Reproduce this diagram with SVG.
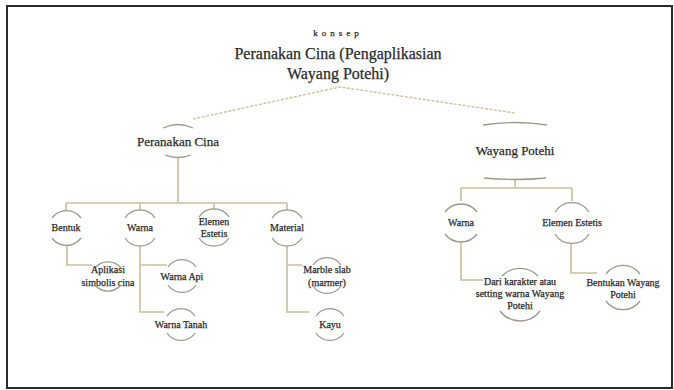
<svg xmlns="http://www.w3.org/2000/svg" width="674" height="390" viewBox="0 0 674 390">
<style>
.t{font-family:"Liberation Serif","Times New Roman",serif;fill:#2a2a2a;text-anchor:middle;stroke:#2a2a2a;stroke-width:0.25}
.s{font-size:10px}
.m{font-size:13px}
.arc{fill:none;stroke:#9d978d;stroke-width:1.3}
.ln{fill:none;stroke:#cbbd9c;stroke-width:1.6}
.dash{fill:none;stroke:#cdc29e;stroke-width:1.4;stroke-dasharray:3 1.5}
</style>
<rect x="0" y="0" width="674" height="390" fill="#fff"/>
<rect x="7" y="6" width="665" height="382" fill="none" stroke="#2b2b2b" stroke-width="2"/>
<g id="title">
<text class="t" x="338" y="36" font-size="9" letter-spacing="4">konsep</text>
<text class="t" x="338" y="59" font-size="16">Peranakan Cina (Pengaplikasian</text>
<text class="t" x="338" y="79" font-size="16">Wayang Potehi)</text>
</g>
<g id="connectors">
<path class="dash" d="M193,119 L340,87 L515,113"/>
<path class="ln" d="M178,157 V203 M66,203 H287 M66,203 V210 M140,203 V210 M214,203 V209 M287,203 V210"/>
<path class="ln" d="M67,246 V265 H92"/>
<path class="ln" d="M140,246 V312 H164 M140,265 H167"/>
<path class="ln" d="M287,246 V312 H309 M287,265 H302"/>
<path class="ln" d="M515,179 V188 M461,188 H572 M461,188 V201 M572,188 V201"/>
<path class="ln" d="M461,243 V280 H483"/>
<path class="ln" d="M571,243 V273 H597"/>
</g>
<g id="n-peranakan">
<path class="arc" d="M163,128 Q178,121 193,128"/>
<text class="t m" x="178" y="146">Peranakan Cina</text>
<path class="arc" d="M165,155 Q178,160 191,155"/>
</g>
<g id="n-wayang">
<path class="arc" d="M483,125 Q515,120 547,125"/>
<text class="t m" x="515" y="155">Wayang Potehi</text>
<path class="arc" d="M484,178 Q515,181 546,178"/>
</g>
<g id="n-bentuk">
<path class="arc" d="M52,218 A18,18 0 0 1 81,218"/>
<text class="t s" x="66" y="231">Bentuk</text>
<path class="arc" d="M81,238 A18,18 0 0 1 52,238"/>
</g>
<g id="n-warna1">
<path class="arc" d="M125,218 A18,18 0 0 1 155,218"/>
<text class="t s" x="140" y="231">Warna</text>
<path class="arc" d="M155,238 A18,18 0 0 1 125,238"/>
</g>
<g id="n-elemen1">
<path class="arc" d="M199,217 A18,18 0 0 1 229,217"/>
<text class="t s" x="214" y="225">Elemen</text>
<text class="t s" x="214" y="237">Estetis</text>
<path class="arc" d="M229,238 A18,18 0 0 1 199,238"/>
</g>
<g id="n-material">
<path class="arc" d="M272,218 A18,18 0 0 1 302,218"/>
<text class="t s" x="287" y="231">Material</text>
<path class="arc" d="M302,238 A18,18 0 0 1 272,238"/>
</g>
<g id="n-aplikasi">
<path class="arc" d="M95,268 A17,17 0 0 1 121,268"/>
<text class="t s" x="108" y="273">Aplikasi</text>
<text class="t s" x="108" y="286">simbolis cina</text>
<path class="arc" d="M121,285 A17,17 0 0 1 95,285"/>
</g>
<g id="n-warnaapi">
<path class="arc" d="M168,267 A17,17 0 0 1 196,267"/>
<text class="t s" x="182" y="280">Warna Api</text>
<path class="arc" d="M196,285 A17,17 0 0 1 168,285"/>
</g>
<g id="n-warnatanah">
<path class="arc" d="M167,316 A17,17 0 0 1 195,316"/>
<text class="t s" x="181" y="328">Warna Tanah</text>
<path class="arc" d="M195,333 A17,17 0 0 1 167,333"/>
</g>
<g id="n-marble">
<path class="arc" d="M313,265 A17,17 0 0 1 341,265"/>
<text class="t s" x="327" y="273">Marble slab</text>
<text class="t s" x="327" y="286">(marmer)</text>
<path class="arc" d="M341,286 A17,17 0 0 1 313,286"/>
</g>
<g id="n-kayu">
<path class="arc" d="M316,316 A17,17 0 0 1 344,316"/>
<text class="t s" x="330" y="328">Kayu</text>
<path class="arc" d="M344,333 A17,17 0 0 1 316,333"/>
</g>
<g id="n-warna2">
<path class="arc" d="M445,212 A20,20 0 0 1 477,212"/>
<text class="t s" x="461" y="226">Warna</text>
<path class="arc" d="M477,234 A20,20 0 0 1 445,234"/>
</g>
<g id="n-elemen2">
<path class="arc" d="M555,212 A20,20 0 0 1 589,212"/>
<text class="t s" x="572" y="226">Elemen Estetis</text>
<path class="arc" d="M589,234 A20,20 0 0 1 555,234"/>
</g>
<g id="n-dari">
<path class="arc" d="M502,276 A25,25 0 0 1 538,276"/>
<text class="t s" x="520" y="285">Dari karakter atau</text>
<text class="t s" x="520" y="297">setting warna Wayang</text>
<text class="t s" x="520" y="309">Potehi</text>
<path class="arc" d="M540,311 A25,25 0 0 1 500,311"/>
</g>
<g id="n-bentukan">
<path class="arc" d="M606,274 A21,21 0 0 1 640,274"/>
<text class="t s" x="623" y="286">Bentukan Wayang</text>
<text class="t s" x="623" y="298">Potehi</text>
<path class="arc" d="M640,301 A21,21 0 0 1 606,301"/>
</g>
</svg>
